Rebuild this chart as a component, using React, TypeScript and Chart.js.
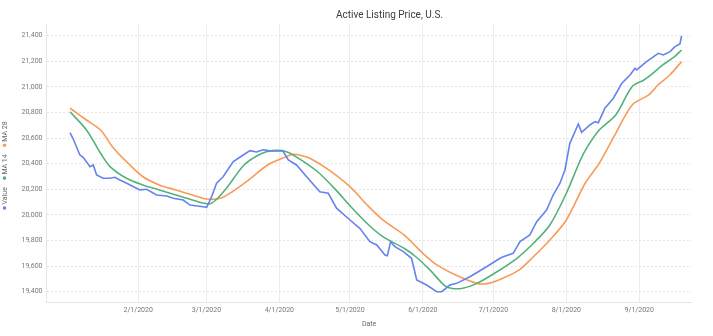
import React, { useEffect, useRef } from "react";
import { Chart, registerables } from "chart.js";

Chart.register(...registerables);

// ---- text ----
const CHART_TITLE = "Active Listing Price, U.S.";
const X_TITLE = "Date";
const SERIES_NAMES = ["Value", "MA 14", "MA 28"];
const SERIES_COLORS = ["#6583ec", "#52b27a", "#f99b58"];

// ---- axes (x = days since 1 Jan 2020) ----
const X_TICK_DAYS = [31, 60, 91, 121, 152, 182, 213, 244];
const X_TICK_LABELS = ["2/1/2020", "3/1/2020", "4/1/2020", "5/1/2020", "6/1/2020", "7/1/2020", "8/1/2020", "9/1/2020"];
const X_MIN = -8;
const X_MAX = 266.3;
const Y_TICKS = [19400, 19600, 19800, 20000, 20200, 20400, 20600, 20800, 21000, 21200, 21400];
const Y_MIN = 19314;
const Y_MAX = 21491;

// ---- series ----
const VALUE_DAYS = [2, 3.4, 6.2, 7.6, 10.5, 11.9, 13.3, 16.1, 19, 21.1, 23.2, 26.1, 31.7, 34.6, 38.8, 43.1, 45.9, 50.1, 53, 58.6, 60.1, 62.2, 64.3, 67.1, 71.4, 75, 78.5, 81.3, 84.1, 87, 92.5, 94.8, 98.3, 102.6, 108.2, 111.8, 115.3, 121, 125.2, 129.5, 132.4, 135.9, 136.9, 138.3, 140.1, 143.7, 147.2, 149.4, 153.6, 157.9, 160, 163.5, 166.4, 172, 179.1, 184.8, 186.2, 190.4, 193.3, 197.5, 200.4, 204.6, 207.4, 210.3, 212.4, 214.5, 218.1, 219.5, 223, 225.2, 226.6, 229.4, 233, 236.6, 240.1, 242.2, 242.9, 247.1, 252.1, 254.2, 257.1, 259.2, 261.3, 262];
const VALUE = [20642, 20591, 20468, 20450, 20377, 20390, 20312, 20286, 20286, 20294, 20273, 20247, 20195, 20200, 20155, 20148, 20130, 20116, 20077, 20064, 20059, 20142, 20247, 20298, 20416, 20460, 20502, 20491, 20509, 20500, 20499, 20429, 20390, 20298, 20181, 20169, 20052, 19960, 19895, 19791, 19765, 19687, 19681, 19791, 19752, 19713, 19661, 19491, 19452, 19400, 19400, 19452, 19465, 19517, 19595, 19661, 19673, 19700, 19791, 19843, 19947, 20038, 20155, 20247, 20351, 20559, 20710, 20645, 20702, 20728, 20720, 20833, 20911, 21028, 21093, 21145, 21132, 21197, 21262, 21249, 21275, 21314, 21335, 21398];

const MA14_DAYS = [2, 9, 15, 19, 26, 33, 40, 47, 54, 61, 64, 69, 76, 83, 88, 94, 101, 108, 115, 122, 129, 135, 144, 149, 155, 161, 164, 169, 175, 183, 192, 199, 206, 213, 219, 222, 227, 234, 241, 246, 249, 254, 259, 262];
const MA14 = [20806, 20663, 20481, 20377, 20286, 20234, 20195, 20155, 20116, 20085, 20116, 20220, 20390, 20476, 20502, 20494, 20420, 20325, 20195, 20052, 19921, 19830, 19739, 19673, 19570, 19452, 19427, 19427, 19465, 19550, 19661, 19778, 19921, 20169, 20429, 20533, 20663, 20780, 21002, 21054, 21093, 21171, 21236, 21288];

const MA28_DAYS = [2, 9, 15, 20, 26, 33, 40, 47, 54, 60, 66, 71, 78, 86, 94, 97, 100, 104, 112, 121, 129, 135, 144, 152, 158, 166, 175, 180, 186, 193, 199, 206, 213, 221, 227, 234, 241, 248, 252, 257, 262];
const MA28 = [20833, 20741, 20663, 20533, 20416, 20298, 20234, 20195, 20155, 20124, 20130, 20181, 20273, 20390, 20455, 20473, 20465, 20442, 20351, 20220, 20064, 19960, 19843, 19700, 19609, 19530, 19465, 19465, 19505, 19570, 19673, 19804, 19960, 20247, 20403, 20637, 20859, 20937, 21015, 21093, 21197];

const FONT = "Roboto, 'Noto Sans', sans-serif";

function points(days: number[], vals: number[]) {
  return days.map((d, i) => ({ x: d, y: vals[i] }));
}

const overlayPlugin = {
  id: "overlay",
  afterDraw(chart: any) {
    const ctx = chart.ctx as CanvasRenderingContext2D;
    ctx.save();
    // title
    ctx.fillStyle = "#3d3d3d";
    ctx.font = `10px ${FONT}`;
    ctx.textAlign = "center";
    ctx.textBaseline = "middle";
    ctx.fillText(CHART_TITLE, 389.5, 15);
    // rotated legend
    ctx.translate(4.5, 0);
    ctx.rotate(-Math.PI / 2);
    ctx.font = `7px ${FONT}`;
    ctx.textAlign = "left";
    let pos = -208;
    SERIES_NAMES.forEach((name, i) => {
      ctx.fillStyle = SERIES_COLORS[i];
      ctx.beginPath();
      ctx.arc(pos, 0, 1.8, 0, Math.PI * 2);
      ctx.fill();
      ctx.fillStyle = "#666";
      ctx.fillText(name, pos + 3.5, 0.5);
      pos += 3.5 + ctx.measureText(name).width + 9;
    });
    ctx.restore();
  },
};

export default function App() {
  const ref = useRef<HTMLCanvasElement>(null);
  useEffect(() => {
    document.body.style.margin = "0";
    const canvas = ref.current!;
    const data = [points(VALUE_DAYS, VALUE), points(MA14_DAYS, MA14), points(MA28_DAYS, MA28)];
    const chart = new Chart(canvas, {
      type: "line",
      data: {
        datasets: SERIES_NAMES.map((name, i) => ({
          label: name,
          data: data[i],
          borderColor: SERIES_COLORS[i],
          backgroundColor: SERIES_COLORS[i],
          borderWidth: 1.6,
          pointRadius: 0,
          tension: i === 0 ? 0 : 0.3,
          fill: false,
        })),
      },
      options: {
        animation: false,
        responsive: false,
        layout: { padding: { left: 0, right: 21.3, top: 24, bottom: 0 } },
        plugins: {
          legend: { display: false },
          title: { display: false },
          tooltip: { enabled: false },
        },
        scales: {
          x: {
            type: "linear",
            min: X_MIN,
            max: X_MAX,
            afterBuildTicks: (s: any) => {
              s.ticks = X_TICK_DAYS.map((v) => ({ value: v }));
            },
            afterFit: (s: any) => {
              s.height = 33.3;
            },
            ticks: {
              autoSkip: false,
              maxRotation: 0,
              padding: 3,
              color: "#777",
              font: { family: FONT, size: 7 },
              callback: (v: any) => {
                const i = X_TICK_DAYS.indexOf(Number(v));
                return i >= 0 ? X_TICK_LABELS[i] : "";
              },
            },
            grid: { color: "#ececec", drawTicks: false, lineWidth: 1 },
            border: { color: "#ebe3e3" },
            title: {
              display: true,
              text: X_TITLE,
              color: "#666",
              font: { family: FONT, size: 7 },
              padding: { top: 0, bottom: 8 },
            },
          },
          y: {
            min: Y_MIN,
            max: Y_MAX,
            afterBuildTicks: (s: any) => {
              s.ticks = Y_TICKS.map((v) => ({ value: v }));
            },
            afterFit: (s: any) => {
              s.width = 46.5;
            },
            ticks: {
              padding: 4,
              color: "#777",
              font: { family: FONT, size: 7 },
              callback: (v: any) => Number(v).toLocaleString("en-US"),
            },
            grid: { color: "#e6e6e6", drawTicks: false, lineWidth: 1 },
            border: { color: "#ebe3e3", dash: [2, 2] },
          },
        },
      },
      plugins: [overlayPlugin],
    });
    return () => chart.destroy();
  }, []);
  return (
    <div style={{ width: 713, height: 336, background: "#fff" }}>
      <canvas ref={ref} width={713} height={336} style={{ display: "block" }} />
    </div>
  );
}
